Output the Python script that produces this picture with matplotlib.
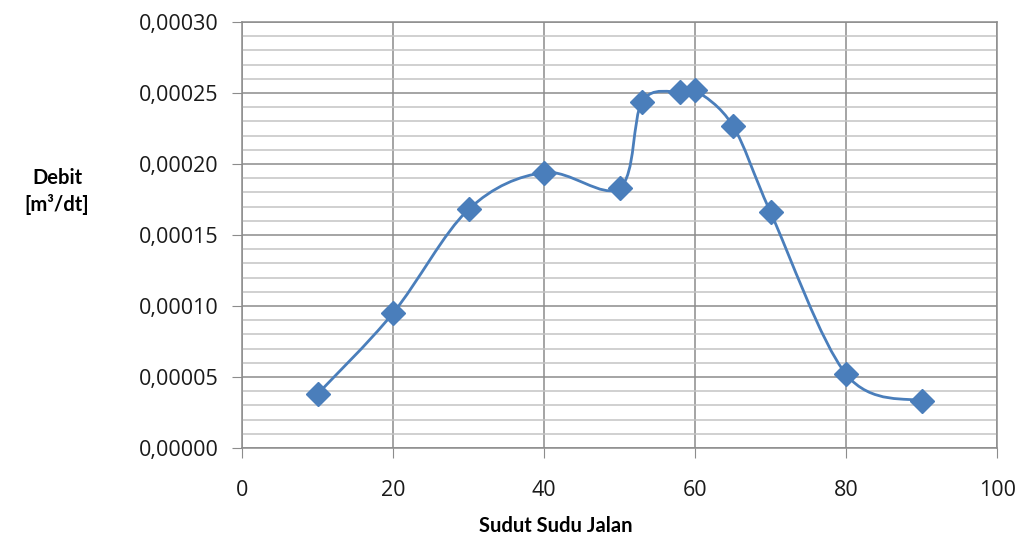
import numpy as np
import matplotlib.pyplot as plt
from matplotlib.ticker import FuncFormatter, MultipleLocator
from matplotlib.path import Path
from matplotlib.patches import PathPatch

# sudut sudu jalan (derajat) dan debit (m3/dt)
sudut = [10, 20, 30, 40, 50, 53, 58, 60, 65, 70, 80, 90]
debit = [0.000038, 0.000095, 0.000168, 0.000194, 0.000183, 0.000244,
         0.000251, 0.000252, 0.000227, 0.000166, 0.000052, 0.000033]

LINE = "#4A7EBB"
MAJOR = "#8c8c8c"
MINOR = "#c4c4c4"


def excel_smooth(xs, ys):
    # Bezier curve like Excel's "smoothed line" (Catmull-Rom control points)
    pts = np.column_stack([xs, ys]).astype(float)
    verts = [pts[0]]
    codes = [Path.MOVETO]
    n = len(pts)
    for i in range(n - 1):
        p0 = pts[i - 1] if i > 0 else pts[i]
        p1 = pts[i]
        p2 = pts[i + 1]
        p3 = pts[i + 2] if i + 2 < n else pts[i + 1]
        c1 = p1 + (p2 - p0) / 6.0
        c2 = p2 - (p3 - p1) / 6.0
        verts += [c1, c2, p2]
        codes += [Path.CURVE4] * 3
    return Path(verts, codes)


plt.rcParams['font.family'] = ['Open Sans', 'DejaVu Sans']

fig = plt.figure(figsize=(10.2, 5.39), dpi=100)
ax = fig.add_axes([0.2373, 0.1688, 0.7402, 0.7904])

ax.set_xlim(0, 100)
ax.set_ylim(0, 0.0003)
ax.xaxis.set_major_locator(MultipleLocator(20))
ax.yaxis.set_major_locator(MultipleLocator(0.00005))
ax.yaxis.set_minor_locator(MultipleLocator(0.00001))

ax.grid(True, which="major", color=MAJOR, linewidth=1.1, zorder=0)
ax.grid(True, which="minor", axis="y", color=MINOR, linewidth=1.1, zorder=0)
ax.set_axisbelow(True)

for side in ["left", "bottom", "right", "top"]:
    ax.spines[side].set_color(MAJOR)
    ax.spines[side].set_linewidth(1.1)

ax.tick_params(which="major", direction="out", length=7, color=MAJOR,
               labelsize=15.5, labelcolor="#1a1a1a")
ax.tick_params(which="minor", length=0)
ax.tick_params(axis="y", pad=10)
ax.tick_params(axis="x", pad=16)
ax.yaxis.set_major_formatter(FuncFormatter(lambda v, p: f"{v:.5f}".replace(".", ",")))

ax.add_patch(PathPatch(excel_smooth(sudut, debit), facecolor="none",
                       edgecolor=LINE, linewidth=2, zorder=3))
ax.plot(sudut, debit, linestyle="none", marker="D", markersize=12.5,
        color=LINE, zorder=4)

fig.text(0.056, 0.645, "Debit\n[m\u00b3/dt]", ha="center", va="center",
         fontsize=14.5, fontweight="bold", family=["Lato", "DejaVu Sans"],
         linespacing=1.35)
fig.text(0.545, 0.024, "Sudut Sudu Jalan", ha="center", va="center",
         fontsize=14.5, fontweight="bold", family=["Lato", "DejaVu Sans"])

fig.savefig("out.png", dpi=100)
